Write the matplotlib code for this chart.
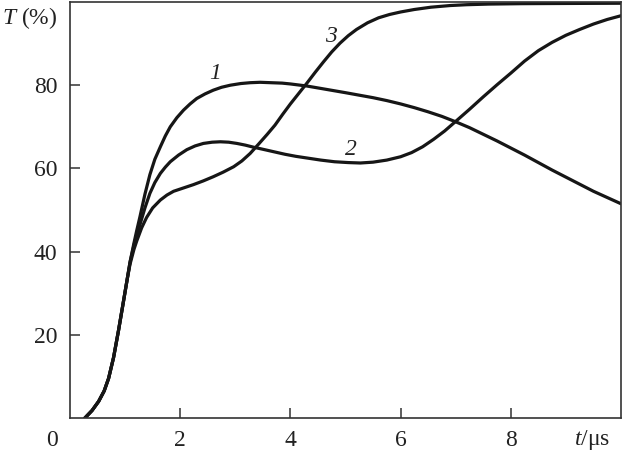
import matplotlib
matplotlib.use("Agg")
import matplotlib.pyplot as plt

SERIF = 'Liberation Serif'
plt.rcParams['font.family'] = SERIF
plt.rcParams['mathtext.fontset'] = 'custom'
plt.rcParams['mathtext.rm'] = SERIF
plt.rcParams['mathtext.it'] = SERIF + ':italic'

# Curve 1
t1 = [0.27, 0.40, 0.52, 0.62, 0.70, 0.79, 0.88, 0.97, 1.04, 1.09, 1.16, 1.21, 1.27, 1.36,
      1.45, 1.54, 1.64, 1.73, 1.82, 1.94, 2.06, 2.18, 2.3, 2.45, 2.6, 2.75, 2.91, 3.1,
      3.27, 3.45, 3.65, 3.85, 4.0, 4.3, 4.65, 5.0, 5.25, 5.5, 5.75, 6.0, 6.25, 6.5, 6.75,
      7.0, 7.25, 7.5, 7.75, 8.0, 8.25, 8.5, 8.75, 9.0, 9.25, 9.5, 9.75, 10.0]
T1 = [0, 1.8, 4.0, 6.5, 9.5, 14.5, 21, 28, 33.5, 37.5, 42, 45, 48.4, 53.8,
      58.5, 62.2, 65.2, 67.8, 70, 72.2, 74, 75.5, 76.8, 77.9, 78.8, 79.5, 80, 80.4,
      80.6, 80.7, 80.6, 80.5, 80.3, 79.8, 79.0, 78.2, 77.6, 77.0, 76.3, 75.5, 74.6, 73.6, 72.5,
      71.2, 69.8, 68.2, 66.6, 64.9, 63.2, 61.4, 59.6, 57.9, 56.2, 54.5, 53.0, 51.5]

# Curve 2
t2 = [0.27, 0.40, 0.52, 0.62, 0.70, 0.79, 0.88, 0.97, 1.04, 1.09, 1.16, 1.21, 1.27, 1.36,
      1.45, 1.54, 1.64, 1.73, 1.82, 1.97, 2.12, 2.27, 2.42, 2.58, 2.73, 2.88, 3.03, 3.18,
      3.33, 3.5, 3.7, 3.9, 4.1, 4.3, 4.55, 4.8, 5.05, 5.27, 5.5, 5.75, 6.0, 6.2, 6.4,
      6.6, 6.8, 7.0, 7.25, 7.5, 7.75, 8.0, 8.25, 8.5, 8.75, 9.0, 9.25, 9.5, 9.75, 10.0]
T2 = [0, 1.8, 4.0, 6.5, 9.5, 14.5, 21, 28, 33.5, 37.5, 41.5, 44, 46.5, 50.5,
      54, 56.6, 58.8, 60.3, 61.6, 63.2, 64.5, 65.4, 66, 66.3, 66.4, 66.3, 66, 65.6,
      65.1, 64.6, 64, 63.4, 62.9, 62.5, 62, 61.6, 61.4, 61.3, 61.5, 62.0, 62.8, 63.8, 65.2,
      67.0, 69.0, 71.3, 74.2, 77.2, 80.1, 82.9, 85.8, 88.3, 90.3, 92.0, 93.4, 94.7, 95.8, 96.7]

# Curve 3
t3 = [0.27, 0.40, 0.52, 0.62, 0.70, 0.79, 0.88, 0.97, 1.04, 1.09, 1.16, 1.21, 1.3, 1.39,
      1.5, 1.64, 1.76, 1.88, 2.06, 2.24, 2.42, 2.6, 2.78, 2.97, 3.12, 3.27, 3.42, 3.58,
      3.72, 3.86, 4.0, 4.15, 4.3, 4.45, 4.6, 4.75, 4.9, 5.05, 5.2, 5.4, 5.6, 5.8, 6.0,
      6.25, 6.55, 6.9, 7.2, 7.6, 8.2, 9.0, 10.0]
T3 = [0, 1.8, 4.0, 6.5, 9.5, 14.5, 21, 28, 33.5, 37, 40.5, 42.5, 45.7, 48.2,
      50.5, 52.4, 53.6, 54.5, 55.3, 56.1, 57, 58, 59.1, 60.4, 61.8, 63.6, 65.8, 68.2,
      70.4, 73.0, 75.5, 78, 80.5, 83.1, 85.6, 88.0, 90.1, 91.9, 93.4, 95.0, 96.2, 97.0, 97.6,
      98.2, 98.75, 99.15, 99.35, 99.5, 99.6, 99.65, 99.7]

curve_labels = ['1', '2', '3']
label_pos_t = [2.64, 5.09, 4.73]
label_pos_T = [82.9, 64.6, 91.6]

x_ticks = [2, 4, 6, 8]
y_ticks = [20, 40, 60, 80]

FS = 17
TXT = '#222222'

fig = plt.figure(figsize=(6.23, 4.57), dpi=100)
ax = fig.add_axes([70/623, 39/457, 551/623, 416/457])

for t, T in [(t1, T1), (t2, T2), (t3, T3)]:
    ax.plot(t, T, color='#161616', lw=2.3, solid_capstyle='round', solid_joinstyle='round')

ax.set_xlim(0, 10)
ax.set_ylim(0, 100)
ax.set_xticks(x_ticks)
ax.set_yticks(y_ticks)
ax.set_xticklabels([str(v) for v in x_ticks])
ax.set_yticklabels([str(v) for v in y_ticks])
ax.tick_params(direction='in', length=7, width=1.1, labelsize=FS, colors='#333333',
               labelcolor=TXT, top=False, right=False)
ax.tick_params(axis='x', pad=9)
ax.tick_params(axis='y', pad=9)
for lab in ax.get_xticklabels() + ax.get_yticklabels():
    lab.set_fontfamily(SERIF)
for s in ax.spines.values():
    s.set_linewidth(1.2)
    s.set_color('#333333')

for lab, x, y in zip(curve_labels, label_pos_t, label_pos_T):
    ax.text(x, y, lab, fontsize=FS, fontfamily=SERIF, style='italic',
            ha='center', va='center', color=TXT)

ax.annotate('0', xy=(0, 0), xytext=(-18, -22), textcoords='offset pixels',
            ha='center', va='center', fontsize=FS, fontfamily=SERIF, color=TXT,
            annotation_clip=False)
fig.text(30/623, 1 - 18/457, r'$T$ (%)', fontsize=FS, fontfamily=SERIF,
         ha='center', va='center', color=TXT)
fig.text(592/623, 1 - 440/457, r'$t$/μs', fontsize=FS, fontfamily=SERIF,
         ha='center', va='center', color=TXT)

fig.savefig('out.png', dpi=100)
